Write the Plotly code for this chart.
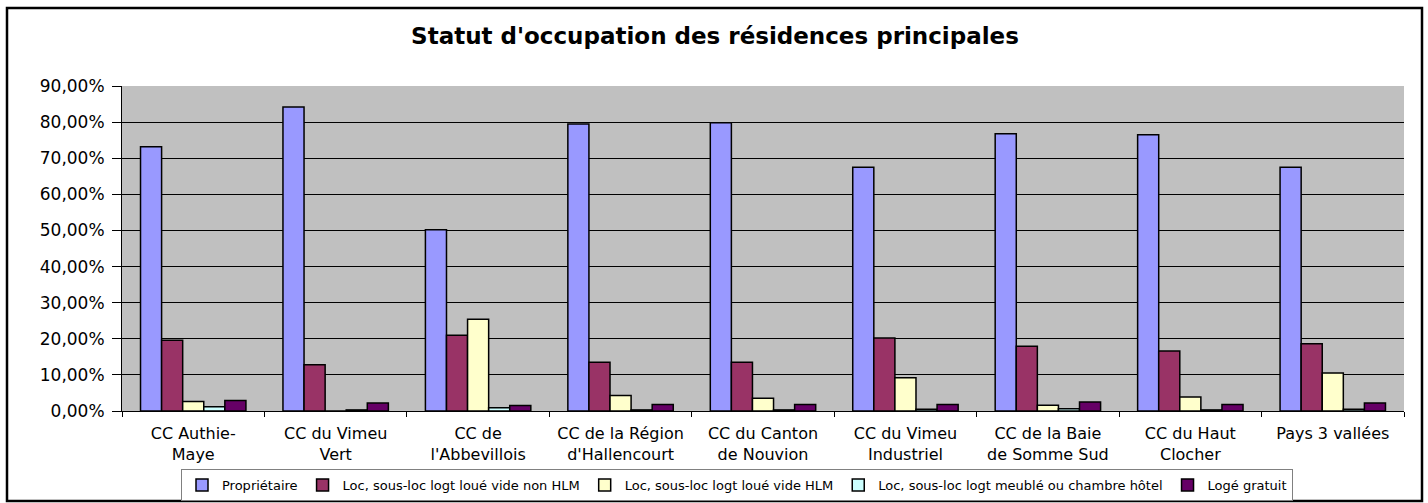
import plotly.graph_objects as go

categories = ["CC Authie-<br>Maye", "CC du Vimeu<br>Vert", "CC de<br>l'Abbevillois",
              "CC de la Région<br>d'Hallencourt", "CC du Canton<br>de Nouvion",
              "CC du Vimeu<br>Industriel", "CC de la Baie<br>de Somme Sud",
              "CC du Haut<br>Clocher", "Pays 3 vallées"]

proprietaire = [73.2, 84.2, 50.2, 79.5, 79.8, 67.5, 76.8, 76.5, 67.5]
loc_non_hlm = [19.6, 12.8, 21.0, 13.5, 13.5, 20.2, 17.9, 16.6, 18.6]
loc_hlm = [2.6, 0.0, 25.4, 4.3, 3.5, 9.2, 1.6, 3.9, 10.5]
loc_meuble = [1.2, 0.3, 0.9, 0.3, 0.3, 0.5, 0.6, 0.3, 0.5]
loge_gratuit = [2.9, 2.2, 1.5, 1.8, 1.8, 1.8, 2.5, 1.8, 2.2]

series_names = ["Propriétaire", "Loc, sous-loc logt loué vide non HLM",
                "Loc, sous-loc logt loué vide HLM",
                "Loc, sous-loc logt meublé ou chambre hôtel", "Logé gratuit"]
series_values = [proprietaire, loc_non_hlm, loc_hlm, loc_meuble, loge_gratuit]
colors = ["#9999FF", "#993366", "#FFFFCC", "#CCFFFF", "#660066"]

W, H = 1428, 503
L, R, T, B = 122, 24, 86, 92
pw, ph = W - L - R, H - T - B
FONT = "DejaVu Sans, Verdana, sans-serif"

fig = go.Figure()
for name, vals, c in zip(series_names, series_values, colors):
    fig.add_trace(go.Bar(x=categories, y=[v / 100 for v in vals], name=name,
                         marker=dict(color=c, line=dict(color="black", width=1.5))))

def px_x(x):
    return (x - L) / pw

def px_y(y):
    return (H - B - y) / ph

fig.update_layout(
    width=W, height=H,
    margin=dict(l=L, r=R, t=T, b=B, autoexpand=False),
    paper_bgcolor="white", plot_bgcolor="#C0C0C0",
    separators=", ",
    font=dict(family=FONT, color="black"),
    title=dict(text="<b>Statut d'occupation des résidences principales</b>",
               x=px_x(715), xref="paper", xanchor="center", y=1 - 36 / H, yanchor="middle",
               font=dict(size=23, color="black", family=FONT)),
    barmode="group", bargap=0.26, bargroupgap=0,
    showlegend=True,
    legend=dict(orientation="h", x=px_x(737), xanchor="center", y=px_y(485), yanchor="middle",
                bordercolor="#808080", borderwidth=1, bgcolor="white",
                font=dict(size=13, family=FONT), itemwidth=30, tracegroupgap=0),
    shapes=[dict(type="rect", xref="paper", yref="paper",
                 x0=px_x(7), x1=px_x(1422), y0=px_y(501), y1=px_y(8),
                 line=dict(color="black", width=2.5), fillcolor="rgba(0,0,0,0)", layer="below")],
)
fig.update_xaxes(showgrid=False, ticks="outside", tickson="boundaries", ticklen=5,
                 tickcolor="black", showline=True, linecolor="black", linewidth=1,
                 tickfont=dict(size=16, family=FONT), ticklabelstandoff=8, automargin=False)
fig.update_yaxes(range=[0, 0.9], dtick=0.1, tickformat=".2%", showgrid=True,
                 gridcolor="black", gridwidth=1, ticks="outside", ticklen=9,
                 tickcolor="black", showline=True, linecolor="black", linewidth=1,
                 tickfont=dict(size=17, family=FONT), zeroline=False, ticklabelstandoff=4,
                 automargin=False)

fig.write_html("out.html", config={"displayModeBar": False},
               post_script="document.body.style.margin='0';document.body.style.padding='0';")
